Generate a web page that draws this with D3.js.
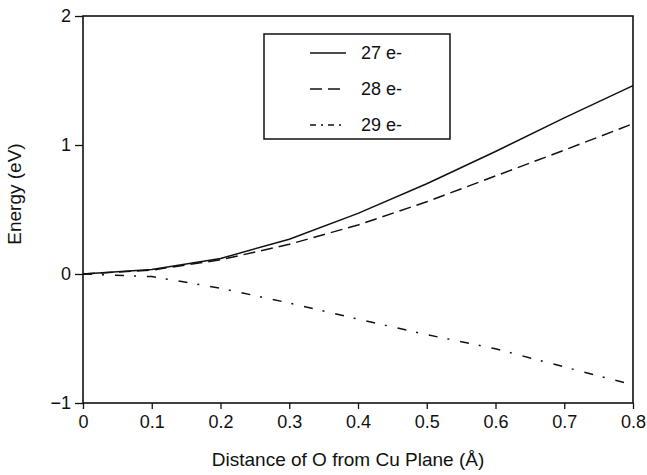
<!DOCTYPE html>
<html>
<head>
<meta charset="utf-8">
<script src="https://cdn.jsdelivr.net/npm/d3@7"></script>
<style>
  body { margin: 0; background: #fff; overflow: hidden; }
  svg { display: block; }
  svg text { font-family: "Liberation Sans", Arial, sans-serif; fill: #111; }
  .axis path, .axis line { stroke: #111; }
</style>
</head>
<body>
<div id="chart"></div>
<script>
const distance = [0, 0.1, 0.2, 0.3, 0.4, 0.5, 0.6, 0.7, 0.8];
const energy27 = [0, 0.035, 0.12, 0.27, 0.47, 0.70, 0.95, 1.21, 1.46];
const energy28 = [0, 0.03, 0.11, 0.23, 0.38, 0.56, 0.76, 0.96, 1.165];
const energy29 = [0, -0.02, -0.11, -0.225, -0.35, -0.47, -0.58, -0.72, -0.86];
const seriesNames = ["27 e-", "28 e-", "29 e-"];
const xTicks = [0, 0.1, 0.2, 0.3, 0.4, 0.5, 0.6, 0.7, 0.8];
const yTicks = [-1, 0, 1, 2];

const outerWidth = 647;
const outerHeight = 475;
const margin = { top: 16, right: 14, bottom: 72, left: 83 };
const innerWidth = outerWidth - margin.left - margin.right;
const innerHeight = outerHeight - margin.top - margin.bottom;
const dashes = ["none", "12,6", "9,10,2,11"];

const SVG = d3
  .select("#chart")
  .append("svg")
  .attr("width", outerWidth)
  .attr("height", outerHeight);

const g = SVG.append("g")
  .attr("transform", "translate(" + margin.left + "," + margin.top + ")");

const xScale = d3.scaleLinear().domain([0, 0.8]).range([0, innerWidth]);
const yScale = d3.scaleLinear().domain([-1, 2]).range([innerHeight, 0]);

const xAxis = d3.axisBottom(xScale)
  .tickValues(xTicks)
  .tickSize(6)
  .tickPadding(6)
  .tickFormat(d => d === 0 ? "0" : d3.format(".1f")(d));

const yAxis = d3.axisLeft(yScale)
  .tickValues(yTicks)
  .tickSize(8)
  .tickPadding(4)
  .tickFormat(d3.format("d"));

g.append("g")
  .attr("class", "x axis")
  .attr("transform", "translate(0," + innerHeight + ")")
  .call(xAxis)
  .call(s => s.select(".domain").remove())
  .selectAll("text")
  .style("font-size", "18px");

g.append("g")
  .attr("class", "y axis")
  .call(yAxis)
  .call(s => s.select(".domain").remove())
  .selectAll("text")
  .style("font-size", "18px");

g.selectAll(".tick line").attr("stroke-width", 1.3);

// frame
g.append("rect")
  .attr("width", innerWidth)
  .attr("height", innerHeight)
  .attr("fill", "none")
  .attr("stroke", "#111")
  .attr("stroke-width", 1.6);

const lineGenerator = d3.line()
  .x((d, i) => xScale(distance[i]))
  .y(d => yScale(d));

[energy27, energy28, energy29].forEach(function(values, i) {
  g.append("path")
    .attr("d", lineGenerator(values))
    .attr("fill", "none")
    .attr("stroke", "#111")
    .attr("stroke-width", 1.5)
    .attr("stroke-dasharray", dashes[i]);
});

// legend
const legend = SVG.append("g").attr("transform", "translate(264,34)");
legend.append("rect")
  .attr("width", 186)
  .attr("height", 105)
  .attr("fill", "#fff")
  .attr("stroke", "#111")
  .attr("stroke-width", 1.5);

seriesNames.forEach(function(name, i) {
  const y = 19 + i * 36;
  legend.append("line")
    .attr("x1", 46).attr("x2", 82)
    .attr("y1", y).attr("y2", y)
    .attr("stroke", "#111")
    .attr("stroke-width", 1.5)
    .attr("stroke-dasharray", i === 2 ? "6,5,2,5" : dashes[i]);
  legend.append("text")
    .attr("x", 97)
    .attr("y", y + 6)
    .style("font-size", "18px")
    .text(name);
});

// axis titles
SVG.append("text")
  .attr("x", 348)
  .attr("y", 466)
  .attr("text-anchor", "middle")
  .style("font-size", "19px")
  .text("Distance of O from Cu Plane (Å)");

SVG.append("text")
  .attr("transform", "translate(21,194) rotate(-90)")
  .attr("text-anchor", "middle")
  .style("font-size", "19px")
  .text("Energy (eV)");
</script>
</body>
</html>
